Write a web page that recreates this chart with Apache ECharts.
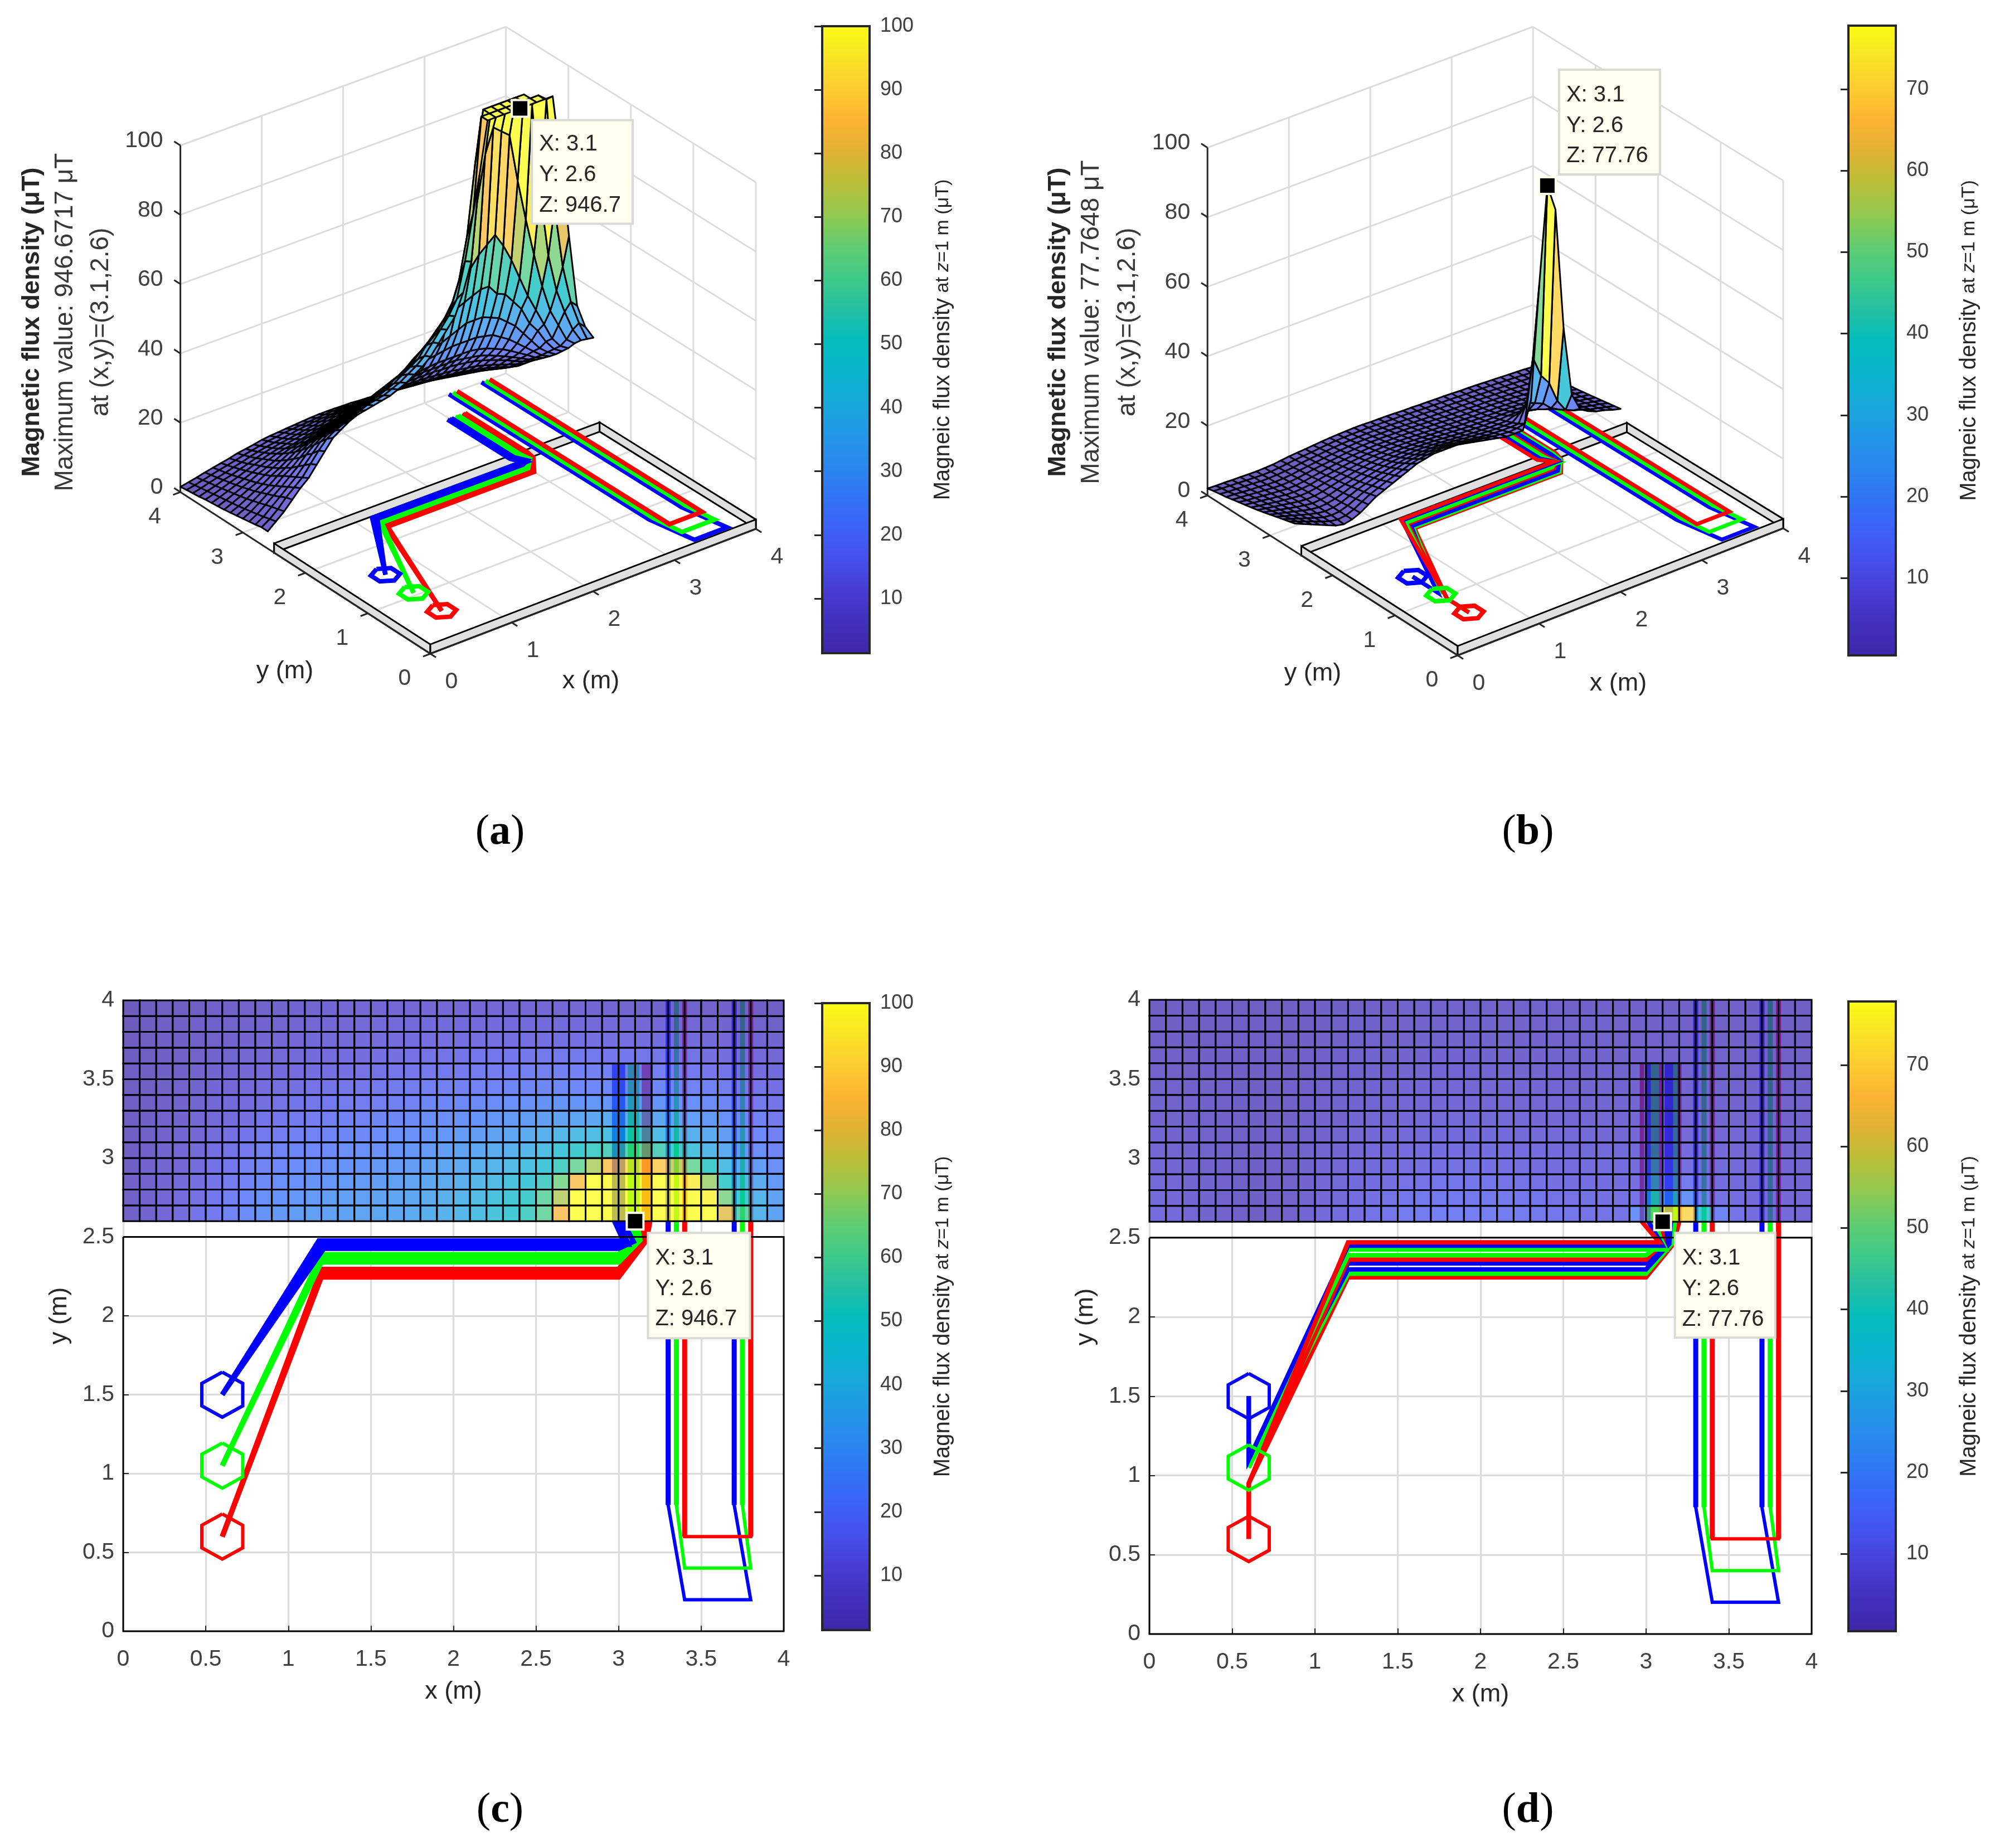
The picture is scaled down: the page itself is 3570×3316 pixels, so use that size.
<!doctype html>
<html><head><meta charset="utf-8">
<style>html,body{margin:0;background:#fff}#c{width:3570px;height:3316px}</style>
<script src="https://cdn.jsdelivr.net/npm/echarts@6/dist/echarts.min.js"></script>
</head><body><div id="c"></div>
<script>
// ---------- data ----------
const xGrid=[0,0.1,0.2,0.3,0.4,0.5,0.6,0.7,0.8,0.9,1,1.1,1.2,1.3,1.4,1.5,1.6,1.7,1.8,1.9,2,2.1,2.2,2.3,2.4,2.5,2.6,2.7,2.8,2.9,3,3.1,3.2,3.3,3.4,3.5,3.6,3.7,3.8,3.9,4];
const yGrid=[2.6,2.7,2.8,2.9,3,3.1,3.2,3.3,3.4,3.5,3.6,3.7,3.8,3.9,4];
const zRowsA=[
[5,7,9,11.5,14,16,19,22,25,26.5,28,29,29.5,30,30.5,31,32,33,34.5,36,38,41,44,47,53,61,85,100,100,100,100,100,100,100,100,100,80,58,37,30,26],
[5,6.5,8.5,11,13,15,18,21,23.5,25,26,27,28,29,29.5,30,31,32,33.5,35,37,40,43,46,50,60,73,100,100,100,100,100,100,100,100,98,66,48,37,30,24.5],
[4.6,6,8,10,12,14,16.5,19,21.5,23,24,25,26,27,27.5,28.5,29.5,30.5,32,33.5,35,38,40,43,46,53,65,85,100,100,100,100,100,100,96,70,51,40,33,27,23],
[4.3,5.6,7.4,9.2,11,13,15,17.5,19.5,21,22,23,24,25,25.5,26.5,27.5,28.5,30,31,32.5,35,37,39.5,42,46,53,62,72,85,92,90,88,74,62,51,41,33,28,23,21],
[4,5.2,6.8,8.5,10,12,13.5,15.5,17.5,19,20,21,22,23,23.5,24.5,25.5,26.5,27.5,28.5,30,32,33.5,35.5,38,41,45,49,52,55,57,59,55,50,44,38,33,28,23,20,18.5],
[3.7,4.8,6.2,7.7,9,10.8,12.3,14,15.7,17,18,19,19.8,20.7,21.3,22,23,24,25,26,27,28.5,30,31.5,33,36,38,40,41,42,43,43,40,39,36,33,28,25,21,18,16.5],
[3.4,4.4,5.7,7,8.2,9.7,11,12.5,14,15,16,16.8,17.6,18.4,19,19.8,20.6,21.5,22.5,23.2,24,25,26,27,28,29,30,31,32,33,33,33,32,31,29,27,24,21,18,16,14.5],
[3.1,4.1,5.2,6.4,7.4,8.8,10,11.2,12.5,13.4,14,14.8,15.5,16.2,16.8,17.5,18.2,19,19.8,20.4,21,21.8,22.5,23.3,24,24.8,25.2,25.6,26,26,26,26,25.5,25,23.5,22,20,18,16,14,12.8],
[2.9,3.8,4.8,5.8,6.8,8,9,10,11.2,12,12.5,13.2,13.8,14.4,15,15.5,16,16.7,17.4,17.8,18,18.8,19.3,19.8,20,20.5,20.8,21,21,21,21,21,20.6,20,19,18,16.7,15.2,13.8,12.2,11.2],
[2.7,3.5,4.4,5.3,6.2,7.2,8.2,9.1,10,10.6,11,11.6,12.2,12.8,13.2,13.7,14.2,14.8,15.2,15.7,16,16.5,16.8,17.2,17.5,17.8,18,18,18,18,18,17.6,17.2,16.8,16,15,14,12.9,11.7,10.5,9.6],
[2.5,3.2,4,4.8,5.6,6.5,7.4,8.2,8.9,9.5,10,10.5,11,11.4,11.8,12.3,12.7,13.1,13.5,13.8,14,14.4,14.7,15,15,15.2,15.2,15.2,15.2,15,15,14.8,14.4,14,13.4,12.7,11.8,10.9,9.8,8.8,8],
[2.2,2.9,3.6,4.4,5,5.8,6.5,7.3,8,8.5,9,9.4,9.8,10.2,10.6,11,11.3,11.6,11.9,12,12,12.4,12.6,12.7,12.7,12.7,12.6,12.5,12.4,12.2,12,11.8,11.4,11,10.6,10,9.3,8.5,7.7,6.9,6.2],
[2,2.6,3.3,3.9,4.5,5.2,5.8,6.5,7.1,7.6,8,8.4,8.8,9.2,9.5,9.8,10,10.2,10.4,10.5,10.5,10.6,10.7,10.7,10.6,10.5,10.4,10.2,10,9.8,9.6,9.3,9,8.7,8.2,7.8,7.2,6.5,5.8,5,4.4],
[1.8,2.3,2.9,3.5,4.1,4.6,5.2,5.8,6.3,6.8,7.3,7.6,8,8.2,8.4,8.6,8.8,9,9.1,9.1,9,9,9,8.9,8.8,8.6,8.4,8.2,8,7.8,7.6,7.3,7,6.7,6.3,5.8,5.3,4.7,4.1,3.5,3],
[1.5,2,2.5,3.1,3.6,4.1,4.6,5.2,5.6,6,6.5,6.8,7,7.2,7.4,7.6,7.8,7.9,7.9,7.9,7.8,7.8,7.6,7.5,7.3,7.1,6.9,6.7,6.4,6.2,6,5.7,5.3,4.9,4.5,4.1,3.7,3.3,3,2.7,2.4]
];
const zRowsB=[
[8,7,6,5,4,3,2.5,3,4,5.5,7,8,9,10,11,12,12.5,13,13,13,13,12.5,12,11.5,11,10.5,10,10,10,18,50,77.76,70,35,15,10,8.5,7.5,7,6.2,5.6],
[7.5,6.6,5.7,4.8,3.9,3.1,2.7,3,3.9,5.2,6.5,7.4,8.4,9.2,10,10.8,11.3,11.6,11.8,11.8,11.7,11.4,11,10.6,10.2,9.8,9.5,9.3,9.5,10,28,22,19,13,9.5,8.5,7.8,7,6.5,5.9,5.3],
[7,6.2,5.4,4.6,3.8,3.1,2.8,3,3.8,4.9,6,6.9,7.7,8.5,9.2,9.8,10.2,10.5,10.6,10.6,10.5,10.2,9.9,9.6,9.3,9,8.8,8.7,8.7,8.8,14,13,12,9.8,8.5,7.8,7.2,6.6,6.1,5.6,5],
[6.5,5.8,5.1,4.4,3.7,3.1,2.8,3,3.6,4.6,5.6,6.3,7.1,7.7,8.3,8.8,9.2,9.4,9.5,9.5,9.4,9.2,9,8.7,8.5,8.3,8.1,8,8,8,10,9.8,9.2,8.3,7.6,7.1,6.6,6.1,5.7,5.2,4.7],
[6,5.4,4.8,4.2,3.6,3.1,2.8,3,3.5,4.3,5.2,5.8,6.5,7.1,7.6,8,8.3,8.5,8.6,8.6,8.5,8.3,8.1,7.9,7.7,7.5,7.4,7.3,7.3,7.3,8,8,7.8,7.3,6.9,6.5,6.1,5.7,5.3,4.9,4.4],
[5.5,5,4.5,4,3.5,3.1,2.8,3,3.4,4.1,4.8,5.4,6,6.5,6.9,7.3,7.5,7.7,7.8,7.8,7.7,7.6,7.4,7.2,7,6.9,6.8,6.7,6.7,6.7,6.9,6.9,6.8,6.5,6.3,5.9,5.6,5.3,4.9,4.5,4.1],
[5,4.6,4.2,3.8,3.4,3,2.8,2.9,3.3,3.9,4.5,5,5.6,6,6.4,6.7,6.9,7,7.1,7.1,7,6.9,6.8,6.6,6.5,6.3,6.2,6.2,6.1,6.1,6.1,6.1,6,5.9,5.7,5.4,5.1,4.9,4.5,4.2,3.8],
[4.6,4.2,3.9,3.5,3.2,2.9,2.7,2.8,3.2,3.7,4.2,4.7,5.1,5.5,5.9,6.2,6.3,6.5,6.5,6.5,6.4,6.3,6.2,6.1,6,5.8,5.7,5.7,5.6,5.6,5.5,5.5,5.4,5.3,5.1,4.9,4.7,4.5,4.2,3.9,3.5],
[4.2,3.9,3.6,3.3,3,2.7,2.6,2.7,3,3.5,3.9,4.3,4.7,5.1,5.4,5.7,5.8,6,6,6,5.9,5.8,5.7,5.6,5.5,5.4,5.3,5.2,5.1,5.1,5,5,4.9,4.8,4.7,4.5,4.3,4.1,3.9,3.6,3.3],
[3.8,3.5,3.3,3,2.8,2.6,2.4,2.5,2.8,3.2,3.6,4,4.4,4.7,5,5.2,5.4,5.5,5.5,5.5,5.5,5.4,5.3,5.2,5.1,5,4.9,4.8,4.7,4.7,4.6,4.6,4.5,4.4,4.3,4.1,4,3.8,3.6,3.3,3.1],
[3.4,3.2,3,2.8,2.6,2.4,2.3,2.4,2.6,3,3.4,3.7,4,4.3,4.6,4.8,5,5.1,5.1,5.1,5,5,4.9,4.8,4.7,4.6,4.5,4.4,4.4,4.3,4.2,4.2,4.1,4,3.9,3.8,3.6,3.5,3.3,3.1,2.9],
[3,2.9,2.7,2.5,2.4,2.2,2.1,2.2,2.4,2.8,3.1,3.4,3.7,4,4.2,4.4,4.6,4.7,4.7,4.7,4.7,4.6,4.5,4.4,4.3,4.2,4.2,4.1,4,4,3.9,3.9,3.8,3.7,3.6,3.5,3.3,3.2,3,2.9,2.7],
[2.7,2.5,2.4,2.3,2.2,2,2,2.1,2.3,2.5,2.9,3.2,3.4,3.7,3.9,4.1,4.2,4.3,4.4,4.4,4.3,4.3,4.2,4.1,4,4,3.9,3.8,3.8,3.7,3.6,3.6,3.5,3.4,3.3,3.2,3.1,3,2.8,2.7,2.5],
[2.4,2.3,2.2,2.1,2,1.9,1.8,1.9,2.1,2.4,2.7,2.9,3.1,3.4,3.6,3.8,3.9,4,4,4.1,4,4,3.9,3.9,3.8,3.7,3.6,3.6,3.5,3.5,3.4,3.3,3.3,3.2,3.1,3,2.9,2.8,2.6,2.5,2.4],
[2,1.9,1.9,1.8,1.8,1.7,1.7,1.8,1.9,2.2,2.5,2.7,2.9,3.1,3.3,3.5,3.6,3.7,3.8,3.8,3.7,3.7,3.7,3.6,3.5,3.5,3.4,3.4,3.3,3.3,3.2,3.1,3.1,3,2.9,2.8,2.7,2.6,2.5,2.4,2.2]
];
const colormap=['#3E26A8','#4230BC','#473CD4','#4650EA','#3D62F7','#3174F5','#2A88EE','#2298E6','#17A8DA','#08B6CC','#04BCBC','#24C0A2','#40CA88','#62CC70','#92C850','#BABE38','#E0B232','#FBB432','#FDCC30','#F9E426','#F9FB15'];
const scaleMinA=1.4, scaleMaxA=100, scaleMinB=0.5, scaleMaxB=77.8;
const colorTicksA=[10,20,30,40,50,60,70,80,90,100];
const colorTicksB=[10,20,30,40,50,60,70];
const axisTicks3D=[0,1,2,3,4];
const innerTicks3D=[1,2,3];
const zTicks=[0,20,40,60,80,100];
const peakX=3.1, peakY=2.6;
const tipA=['X: 3.1','Y: 2.6','Z: 946.7'];
const tipB=['X: 3.1','Y: 2.6','Z: 77.76'];
const titleA=['Magnetic flux density (\u03BCT)','Maximum value: 946.6717 \u03BCT','at (x,y)=(3.1,2.6)'];
const titleB=['Magnetic flux density (\u03BCT)','Maximum value: 77.7648 \u03BCT','at (x,y)=(3.1,2.6)'];
const frameEdges=[[4,2.5,0,2.5],[4,0,4,2.5],[0,0,0,2.5],[0,0,4,0]];
const hexOffX=[0,0.124,0.124,0,-0.124,-0.124,0];
const hexOffY=[0.143,0.0715,-0.0715,-0.143,-0.0715,0.0715,0.143];
const hexCenters=[['#0000ff',0.6,1.5],['#00ff00',0.6,1.05],['#ff0000',0.6,0.6]];
const loopBlue=[[3.3,4],[3.3,0.8],[3.4,0.2],[3.8,0.2],[3.7,0.8],[3.7,4]];
const loopGreen=[[3.35,4],[3.35,0.8],[3.4,0.4],[3.8,0.4],[3.75,0.8],[3.75,4]];
const loopRed=[[3.4,4],[3.4,0.6],[3.8,0.6],[3.8,4]];
const armsBlue=[[[3.3,4],[3.3,0.8]],[[3.7,4],[3.7,0.8]]];
const armsGreen=[[[3.35,4],[3.35,0.8]],[[3.75,4],[3.75,0.8]]];
const armsRed=[[[3.4,4],[3.4,0.6]],[[3.8,4],[3.8,0.6]]];
// feeders, configuration of panels (a) and (c)
const feedBlueA=[
[[0.6,1.5],[1.185,2.476],[3.03,2.476],[2.975,2.6],[2.975,3.6]],
[[0.6,1.5],[1.2,2.452],[3.06,2.452],[3.0,2.6],[3.0,3.6]],
[[0.6,1.5],[1.215,2.427],[3.0,2.427],[3.09,2.47],[3.025,2.6],[3.025,3.6]]];
const feedGreenA=[
[[0.6,1.05],[1.2,2.389],[3.0,2.389],[3.09,2.48],[3.07,2.6],[3.07,3.6]],
[[0.6,1.05],[1.2,2.364],[3.0,2.364],[3.11,2.48],[3.09,2.6],[3.09,3.6]],
[[0.6,1.05],[1.2,2.34],[3.0,2.34],[3.13,2.48],[3.11,2.6],[3.11,3.6]]];
const feedRedA=[
[[0.6,0.6],[1.2,2.295],[3.0,2.295],[3.14,2.48],[3.155,2.6],[3.155,3.6]],
[[0.6,0.6],[1.2,2.27],[3.0,2.27],[3.155,2.48],[3.17,2.6],[3.17,3.6]],
[[0.6,0.6],[1.2,2.245],[3.0,2.245],[3.17,2.48],[3.19,2.6],[3.19,3.6]]];
// feeders, configuration of panels (b) and (d)
const feedBlueB=[
[[0.6,1.5],[0.6,1.1],[1.2,2.449],[3.1,2.449],[3.015,2.6],[3.015,3.6]],
[[0.6,1.5],[0.6,1.1],[1.2,2.337],[3.0,2.337],[3.125,2.47],[3.125,2.6],[3.125,3.6]],
[[0.6,1.5],[0.6,1.1],[1.2,2.3],[3.0,2.3],[3.14,2.46],[3.15,2.6],[3.15,3.6]]];
const feedGreenB=[
[[0.6,1.05],[1.2,2.425],[3.12,2.425],[3.04,2.6],[3.04,3.6]],
[[0.6,1.05],[1.2,2.389],[3.0,2.389],[3.09,2.46],[3.065,2.6],[3.065,3.6]],
[[0.6,1.05],[1.2,2.272],[3.0,2.272],[3.155,2.46],[3.175,2.6],[3.175,3.6]]];
const feedRedB=[
[[0.6,0.6],[0.6,0.95],[1.2,2.47],[3.08,2.47],[2.975,2.6],[2.975,3.6]],
[[0.6,0.6],[0.6,0.95],[1.2,2.361],[3.0,2.361],[3.105,2.47],[3.09,2.6],[3.09,3.6]],
[[0.6,0.6],[0.6,0.95],[1.2,2.25],[3.0,2.25],[3.165,2.46],[3.2,2.6],[3.2,3.6]]];

// ---------- layout and style ----------
const FONT='"Liberation Sans",Arial,sans-serif';
const TICKC='#404040', LABC='#262626', GRIDC='#DCDCDC';
const ALPHA=0.75;
const view3A={grid:0,o:[772,1173],ex:[146,-56],ey:[-112.1,-72.5],k:0.6875,ez:6.22,lw:8};
const view3B={grid:1,o:[765,1176],ex:[146,-57],ey:[-112.2,-71.75],k:0.6875,ez:6.24,lw:7};
function project(v,x,y,z){return [v.o[0]+v.ex[0]*x+v.ey[0]*y, v.o[1]+v.ex[1]*x+v.ey[1]*y+v.k*x*y-v.ez*z];}

const cbGrid=(left,top,width,height)=>({left,top,width,height,show:true,z:2,borderColor:'#262626',borderWidth:4,backgroundColor:'transparent'});
const grid=[
 {left:0,top:0,width:1470,height:1300},
 {left:1850,top:0,width:1470,height:1300},
 {left:221,top:1795,width:1185,height:1132},
 {left:2062,top:1794,width:1188,height:1138},
 cbGrid(1475,47,85,1125),cbGrid(3316,46,85,1130),cbGrid(1475,1800,85,1125),cbGrid(3316,1797,85,1130)
];
const hidden=(g,extra)=>Object.assign({type:'value',gridIndex:g,show:false,splitLine:{show:false}},extra);
const xAxis=[hidden(0,{min:0,max:1470}),hidden(1,{min:0,max:1470})];
const yAxis=[hidden(0,{min:0,max:1300,inverse:true}),hidden(1,{min:0,max:1300,inverse:true})];
[2,3].forEach(g=>{
 xAxis.push({type:'value',gridIndex:g,min:0,max:4,interval:0.5,name:'x (m)',nameLocation:'middle',nameGap:86,
  nameTextStyle:{fontFamily:FONT,fontSize:45,color:LABC},
  axisLine:{show:false},axisTick:{show:true,inside:true,length:10,lineStyle:{color:'#262626',width:2}},
  axisLabel:{fontFamily:FONT,fontSize:41,color:TICKC,margin:30,showMinLabel:true,showMaxLabel:true},
  splitLine:{show:true,lineStyle:{color:GRIDC,width:3}}});
 yAxis.push({type:'value',gridIndex:g,min:0,max:4,interval:0.5,name:'y (m)',nameLocation:'middle',nameGap:92,
  nameTextStyle:{fontFamily:FONT,fontSize:45,color:LABC},
  axisLine:{show:false},axisTick:{show:true,inside:true,length:10,lineStyle:{color:'#262626',width:2}},
  axisLabel:{fontFamily:FONT,fontSize:41,color:TICKC,margin:16,padding:[14,0,0,0],showMinLabel:true,showMaxLabel:true},
  splitLine:{show:true,lineStyle:{color:GRIDC,width:3}}});
});
const cbName='{a|Magneic flux density}{b|\u00A0at\u00A0}{c|z}{b|=1\u00A0m\u00A0(\u03BCT)}';
const cbRich={a:{fontFamily:FONT,fontSize:40,color:LABC},b:{fontFamily:FONT,fontSize:34,color:LABC},c:{fontFamily:FONT,fontSize:34,fontStyle:'italic',color:LABC}};
[[4,scaleMinA,scaleMaxA,colorTicksA],[5,scaleMinB,scaleMaxB,colorTicksB],[6,scaleMinA,scaleMaxA,colorTicksA],[7,scaleMinB,scaleMaxB,colorTicksB]].forEach(([g,mn,mx,ticks])=>{
 xAxis.push(hidden(g,{min:0,max:1}));
 yAxis.push({type:'value',gridIndex:g,min:mn,max:mx,position:'right',z:3,
  name:cbName,nameLocation:'middle',nameRotate:90,nameGap:112,nameTextStyle:{rich:cbRich},
  axisLine:{show:false},splitLine:{show:false},
  axisTick:{show:true,inside:true,length:14,customValues:ticks,lineStyle:{color:'#262626',width:3}},
  axisLabel:{customValues:ticks,fontFamily:FONT,fontSize:36,color:TICKC,margin:19}});
});

const series=[];
const onGrid=g=>({xAxisIndex:g,yAxisIndex:g,silent:true,animation:false});
function segSeries(v,segs,stroke,width,z){
 series.push(Object.assign(onGrid(v.grid),{type:'custom',z,data:segs,
  renderItem:(p,api)=>{const s=segs[p.dataIndex];
   const a=api.coord(project(v,s[0],s[1],s[2])),b=api.coord(project(v,s[3],s[4],s[5]));
   return {type:'line',shape:{x1:a[0],y1:a[1],x2:b[0],y2:b[1]},style:{stroke,lineWidth:width}};}}));
}
function textSeries(g,items,z){
 series.push(Object.assign(onGrid(g),{type:'custom',z,data:items.map(t=>[t.p[0],t.p[1]]),
  renderItem:(p,api)=>{const t=items[p.dataIndex],c=api.coord(t.p);
   return {type:'text',x:c[0],y:c[1],style:{text:t.text,fontFamily:FONT,fontSize:t.size,fill:t.color,align:t.align||'center',verticalAlign:'middle'}};}}));
}
// feeders drawn lowest-y first, so that each upper line lies over the one below it
function coilSets(blue,green,red){
 const tagged=[];
 [['#0000ff',blue],['#00ff00',green],['#ff0000',red]].forEach(([c,ps])=>ps.forEach(p=>tagged.push([c,p])));
 const yAtBend=p=>p.find(q=>q[0]>1.1)[1];
 return tagged.sort((a,b)=>yAtBend(a[1])-yAtBend(b[1]));
}
function hexPath(cx,cy){return hexOffX.map((d,i)=>[cx+d,cy+hexOffY[i]]);}
function lineSeries(g,pts,color,width,z){
 series.push(Object.assign(onGrid(g),{type:'line',z,data:pts,symbol:'none',showSymbol:false,clip:false,
  lineStyle:{color,width,join:'miter',cap:'butt'}}));
}
function tipSeries(g,anchor,off,tip,z){
 series.push(Object.assign(onGrid(g),{type:'custom',z,data:[anchor],
  renderItem:(p,api)=>{const c=api.coord(anchor);
   const kids=[
    {type:'rect',shape:{x:c[0]+off[0],y:c[1]+off[1],width:off[2],height:off[3]},style:{fill:'#FFFFF0',stroke:'#DADAD4',lineWidth:4}},
    {type:'rect',shape:{x:c[0]-15,y:c[1]-15,width:30,height:30},style:{fill:'#000',stroke:'#FFFDE8',lineWidth:4}}];
   tip.forEach((t,i)=>kids.push({type:'text',x:c[0]+off[0]+13,y:c[1]+off[1]+off[4]+i*54.6,
     style:{text:t,fontFamily:FONT,fontSize:40,fill:'#262626',align:'left',verticalAlign:'middle'}}));
   return {type:'group',children:kids};}}));
}
function surfaceCells(rows,v){
 const out=[];
 for(let j=0;j<rows.length-1;j++)for(let i=0;i<xGrid.length-1;i++)out.push([i,j,rows[j][i]]);
 if(v)out.sort((a,b)=>((xGrid[b[0]]*56+yGrid[b[1]]*72.5)-(xGrid[a[0]]*56+yGrid[a[1]]*72.5)));
 return out;
}
function panel3D(v,rows,coils,tip,off,peakZ,cfg){
 const segs=[];
 innerTicks3D.forEach(t=>{segs.push([t,0,0,t,4,0]);segs.push([0,t,0,4,t,0]);
   segs.push([t,4,0,t,4,100]);segs.push([4,t,0,4,t,100]);});
 segs.push([4,4,0,4,4,100]);segs.push([0,4,0,4,4,0]);segs.push([4,0,0,4,4,0]);segs.push([4,0,0,4,0,100]);
 zTicks.slice(1).forEach(z=>{segs.push([0,4,z,4,4,z]);segs.push([4,4,z,4,0,z]);});
 segSeries(v,segs,GRIDC,3,2);
 series.push(Object.assign(onGrid(v.grid),{type:'custom',z:3,data:frameEdges,
  renderItem:(p,api)=>{const e=frameEdges[p.dataIndex];const H=2.7;
   const pts=[[e[0],e[1],0],[e[2],e[3],0],[e[2],e[3],H],[e[0],e[1],H]].map(q=>api.coord(project(v,q[0],q[1],q[2])));
   return {type:'polygon',shape:{points:pts},style:{fill:'#E0E0E0',stroke:'#000',lineWidth:3}};}}));
 const ax=[[0,0,0,4,0,0],[0,0,0,0,4,0],[0,4,0,0,4,100]];
 axisTicks3D.forEach(t=>{ax.push([t,0,0,t,-0.09,0]);ax.push([0,t,0,-0.09,t,0]);});
 zTicks.forEach(z=>ax.push([0,4,z,0,4.1,z]));
 segSeries(v,ax,'#262626',3,3);
 coils.forEach(([color,pth])=>lineSeries(v.grid,pth.map(q=>project(v,q[0],q[1],0)),color,v.lw,4));
 [['#0000ff',loopBlue],['#00ff00',loopGreen],['#ff0000',loopRed]].forEach(([c,l])=>lineSeries(v.grid,l.map(q=>project(v,q[0],q[1],0)),c,v.lw,4));
 hexCenters.forEach(([c,x,y])=>lineSeries(v.grid,hexPath(x,y).map(q=>project(v,q[0],q[1],0)),c,8,4));
 const idx=series.length;
 series.push(Object.assign(onGrid(v.grid),{type:'custom',z:5,data:surfaceCells(rows,v),
  renderItem:(p,api)=>{const i=api.value(0),j=api.value(1);
   const pts=[[i,j],[i+1,j],[i+1,j+1],[i,j+1]].map(q=>api.coord(project(v,xGrid[q[0]],yGrid[q[1]],rows[q[1]][q[0]])));
   return {type:'polygon',shape:{points:pts},style:{fill:echarts.color.lerp(1-ALPHA,[api.visual('color'),'#ffffff']),stroke:'#000',lineWidth:3,lineJoin:'round'}};}}));
 tipSeries(v.grid,project(v,peakX,peakY,peakZ),off,tip,8);
 const labs=[];
 axisTicks3D.forEach(t=>{
  const a=project(v,t,0,0);labs.push({p:[a[0]+38,a[1]+51],text:String(t),size:41,color:TICKC});
  const b=project(v,0,t,0);labs.push({p:[b[0]-46,b[1]+45],text:String(t),size:41,color:TICKC});});
 zTicks.forEach(z=>{const a=project(v,0,4,z);labs.push({p:[a[0]-31,a[1]-8],text:String(z),size:41,color:TICKC,align:'right'});});
 labs.push({p:cfg.xName,text:'x (m)',size:45,color:LABC});
 labs.push({p:cfg.yName,text:'y (m)',size:45,color:LABC});
 textSeries(v.grid,labs,9);
 return idx;
}
function panel2D(g,rows,coils,tip,off,feedW){
 coils.forEach(([color,pth])=>lineSeries(g,pth,color,feedW,3));
 [['#0000ff',loopBlue],['#00ff00',loopGreen],['#ff0000',loopRed]].forEach(([c,l])=>lineSeries(g,l,c,6,3));
 [['#0000ff',armsBlue],['#00ff00',armsGreen],['#ff0000',armsRed]].forEach(([c,ar])=>ar.forEach(l=>lineSeries(g,l,c,9,3)));
 hexCenters.forEach(([c,x,y])=>lineSeries(g,hexPath(x,y),c,6,3));
 const idx=series.length;
 series.push(Object.assign(onGrid(g),{type:'custom',z:4,data:surfaceCells(rows,null),
  renderItem:(p,api)=>{const i=api.value(0),j=api.value(1);
   const pts=[[i,j],[i+1,j],[i+1,j+1],[i,j+1]].map(q=>api.coord([xGrid[q[0]],yGrid[q[1]]]));
   return {type:'polygon',shape:{points:pts},style:{fill:echarts.color.modifyAlpha(api.visual('color'),ALPHA),stroke:'#000',lineWidth:3}};}}));
 lineSeries(g,[[0,2.5],[0,0],[4,0],[4,2.5],[0,2.5]],'#000',3,5);
 tipSeries(g,[peakX,peakY],off,tip,8);
 return idx;
}
const coilsA=coilSets(feedBlueA,feedGreenA,feedRedA), coilsB=coilSets(feedBlueB,feedGreenB,feedRedB);
const sA=panel3D(view3A,zRowsA,coilsA,tipA,[21,21,181,186,44],100,{xName:[1060,1223],yName:[511,1205]});
const sB=panel3D(view3B,zRowsB,coilsB,tipB,[21,-208,181,188,46],77.76,{xName:[1053,1227],yName:[505,1209]});
const sC=panel2D(2,zRowsA,coilsA,tipA,[23,21,183,189,46],9);
const sD=panel2D(3,zRowsB,coilsB,tipB,[22,20,180,188,46],8);

const vm=(si,mn,mx,left,top,w,h)=>({type:'continuous',seriesIndex:si,dimension:2,min:mn,max:mx,left,top,itemWidth:w,itemHeight:h,
 padding:0,calculable:false,hoverLink:false,z:1,text:null,inRange:{color:colormap},outOfRange:{color:colormap[0]}});
const visualMap=[vm(sA,scaleMinA,scaleMaxA,1475,47,85,1125),vm(sB,scaleMinB,scaleMaxB,3316,46,85,1130),vm(sC,scaleMinA,scaleMaxA,1475,1800,85,1125),vm(sD,scaleMinB,scaleMaxB,3316,1797,85,1130)];

const graphic=[];
function leftTitle(lines,xs,cy){
 lines.forEach((t,i)=>graphic.push({type:'text',x:xs[i],y:cy,rotation:Math.PI/2,silent:true,
  style:{text:t,fontFamily:FONT,fontSize:i==0?45:46,fontWeight:i==0?'bold':'normal',fill:i==0?'#262626':'#383838',align:'center',verticalAlign:'middle'}}));
}
leftTitle(titleA,[58,117,181],578);
leftTitle(titleB,[1899,1958,2023],578);
[['a',897,1494],['b',2741,1494],['c',897,3249],['d',2741,3249]].forEach(([l,x,y])=>graphic.push({type:'text',x,y,silent:true,
 style:{text:'({t|'+l+'})',fontFamily:'"Liberation Serif",serif',fontSize:76,fill:'#000',align:'center',verticalAlign:'middle',
  rich:{t:{fontFamily:'"Liberation Serif",serif',fontSize:76,fontWeight:'bold',fill:'#000'}}}}));

const chart=echarts.init(document.getElementById('c'),null,{renderer:'canvas',width:3570,height:3316});
chart.setOption({animation:false,backgroundColor:'#fff',tooltip:{show:false},grid,xAxis,yAxis,visualMap,series,graphic});
</script></body></html>
